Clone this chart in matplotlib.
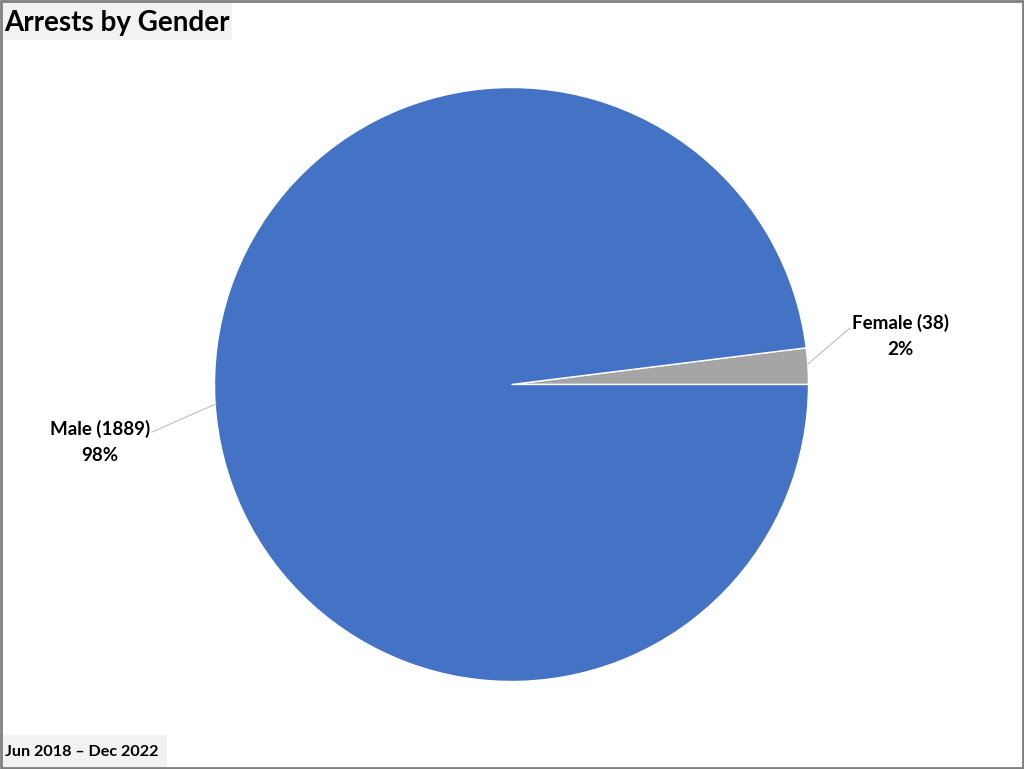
import matplotlib
matplotlib.use("Agg")
import matplotlib.pyplot as plt
from matplotlib.patches import Rectangle

labels = ["Female", "Male"]
counts = [38, 1889]
colors = ["#a5a5a5", "#4472c4"]
title = "Arrests by Gender"
period = "Jun 2018 \u2013 Dec 2022"

plt.rcParams['font.family'] = ['Lato', 'DejaVu Sans']

W, H = 1024, 769
fig = plt.figure(figsize=(W / 100, H / 100), dpi=100)
ax = fig.add_axes([0, 0, 1, 1])

cx, cy, r = 511.5, H - 384.5, 297
wedges, _ = ax.pie(counts, colors=colors, startangle=0, counterclock=True,
                   center=(cx, cy), radius=r, frame=True,
                   wedgeprops=dict(edgecolor='white', linewidth=1))
ax.set_xlim(0, W)
ax.set_ylim(0, H)
ax.axis('off')

total = sum(counts)
# Female label
ax.plot([808, 850], [H - 364, H - 328], color='#bfbfbf', lw=0.8)
ax.text(900, H - 336, f"{labels[0]} ({counts[0]})\n{round(counts[0] / total * 100)}%",
        ha='center', va='center', fontsize=13.5, fontweight='bold', linespacing=1.6)
# Male label
ax.plot([216, 152], [H - 404, H - 432], color='#bfbfbf', lw=0.8)
ax.text(100, H - 442, f"{labels[1]} ({counts[1]})\n{round(counts[1] / total * 100)}%",
        ha='center', va='center', fontsize=13.5, fontweight='bold', linespacing=1.6)

# Title box
ax.add_patch(Rectangle((2, H - 40), 230, 38, facecolor='#f2f2f2', edgecolor='none', zorder=0))
ax.text(4, H - 23, title, ha='left', va='center', fontsize=20, fontweight='bold')

# Period box
ax.add_patch(Rectangle((2, 2), 165, 32, facecolor='#f2f2f2', edgecolor='none', zorder=0))
ax.text(5, 17, period, ha='left', va='center', fontsize=11.6, fontweight='bold')

# Border
fig.patches.append(Rectangle((0.001, 0.0015), 0.998, 0.997, transform=fig.transFigure,
                             fill=False, edgecolor='#808080', linewidth=2))

fig.savefig("out.png", dpi=100)
